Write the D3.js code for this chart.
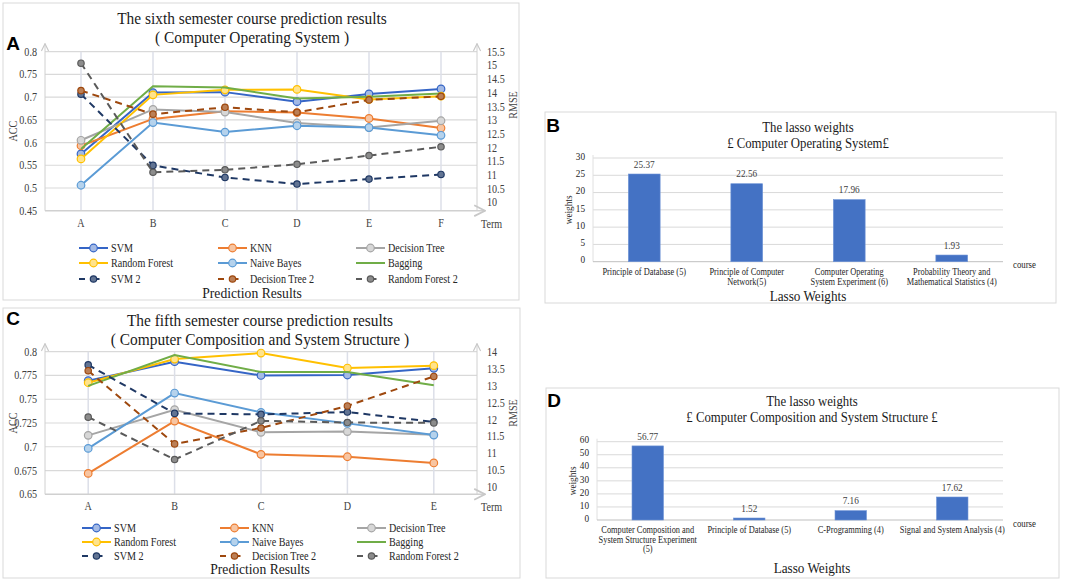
<!DOCTYPE html>
<html>
<head>
<meta charset="utf-8">
<script src="https://cdn.jsdelivr.net/npm/d3@7"></script>
<style>
  body { margin: 0; background: #fff; }
  text { font-family: "Liberation Serif", "Times New Roman", serif; fill: #404040; }
  .panel-letter { font-family: "Liberation Sans", Arial, sans-serif; font-weight: bold; fill: #000; }
</style>
</head>
<body>
<svg id="chart" width="1084" height="581"></svg>
<script>
// Panel A / C categories (terms)
const termsA = ["A", "B", "C", "D", "E", "F"];
const termsC = ["A", "B", "C", "D", "E"];

// Panel A: ACC (left axis)
const svmA = [0.575, 0.710, 0.711, 0.690, 0.707, 0.718];
const knnA = [0.593, 0.652, 0.669, 0.666, 0.653, 0.632];
const dtA = [0.605, 0.673, 0.667, 0.643, 0.633, 0.648];
const rfA = [0.564, 0.705, 0.716, 0.717, 0.695, 0.702];
const nbA = [0.506, 0.644, 0.623, 0.637, 0.633, 0.616];
const bagA = [0.586, 0.724, 0.721, 0.697, 0.701, 0.708];
// Panel A: RMSE (right axis)
const svm2A = [13.95, 11.35, 10.91, 10.67, 10.85, 11.02];
const dt2A = [14.08, 13.22, 13.47, 13.29, 13.74, 13.87];
const rf2A = [15.08, 11.10, 11.19, 11.39, 11.71, 12.03];

// Panel C: ACC (left axis)
const svmC = [0.7695, 0.7895, 0.775, 0.7755, 0.7825];
const knnC = [0.672, 0.727, 0.692, 0.6895, 0.683];
const dtC = [0.712, 0.739, 0.7152, 0.716, 0.7127];
const rfC = [0.7674, 0.7923, 0.7986, 0.7828, 0.7853];
const nbC = [0.6983, 0.7565, 0.7362, 0.7246, 0.7123];
const bagC = [0.764, 0.7965, 0.7786, 0.7786, 0.7646];
// Panel C: RMSE (right axis)
const svm2C = [13.61, 12.18, 12.15, 12.22, 11.93];
const dt2C = [13.44, 11.28, 11.75, 12.40, 13.27];
const rf2C = [12.07, 10.82, 11.96, 11.91, 11.90];

// Series names (legend order)
const seriesNames = ["SVM", "KNN", "Decision Tree", "Random Forest", "Naive Bayes", "Bagging", "SVM 2", "Decision Tree 2", "Random Forest 2"];

// Tick labels
const accTicksA = [0.45, 0.5, 0.55, 0.6, 0.65, 0.7, 0.75, 0.8];
const rmseTicksA = [10, 10.5, 11, 11.5, 12, 12.5, 13, 13.5, 14, 14.5, 15, 15.5];
const accTicksC = [0.65, 0.675, 0.7, 0.725, 0.75, 0.775, 0.8];
const rmseTicksC = [10, 10.5, 11, 11.5, 12, 12.5, 13, 13.5, 14];

// Panel B / D lasso weights
const coursesB = ["Principle of Database (5)", "Principle of Computer\nNetwork(5)", "Computer Operating\nSystem Experiment (6)", "Probability Theory and\nMathematical Statistics (4)"];
const weightsB = [25.37, 22.56, 17.96, 1.93];
const coursesD = ["Computer Composition and\nSystem Structure Experiment\n(5)", "Principle of Database (5)", "C-Programming (4)", "Signal and System Analysis (4)"];
const weightsD = [56.77, 1.52, 7.16, 17.62];
const weightTicksB = [0, 5, 10, 15, 20, 25, 30];
const weightTicksD = [0, 10, 20, 30, 40, 50, 60];

const svg = d3.select("#chart");

// styles per series
const colors = ["#3565c6", "#ed7d31", "#a5a5a5", "#ffc000", "#5b9bd5", "#70ad47", "#1f3864", "#9e480e", "#5a5a5a"];
const dashed = [false, false, false, false, false, false, true, true, true];
const hasMarker = [true, true, true, true, true, false, true, true, true];

// the source figure uses a narrow serif, so squeeze text horizontally
const squeeze = 0.88;

// open chevron arrow for axes
svg.append("defs").append("marker")
  .attr("id", "arrow")
  .attr("viewBox", "0 0 10 10")
  .attr("refX", 9).attr("refY", 5)
  .attr("markerWidth", 9).attr("markerHeight", 9)
  .attr("orient", "auto")
  .append("path")
    .attr("d", "M1,1 L9,5 L1,9")
    .attr("fill", "none")
    .attr("stroke", "#c8c8c8")
    .attr("stroke-width", 1.3);

function frame(x, y, w, h) {
  svg.append("rect")
    .attr("x", x).attr("y", y).attr("width", w).attr("height", h)
    .attr("fill", "#fff").attr("stroke", "#d9d9d9");
}

function label(txt, x, y, size, opts = {}) {
  const sx = opts.cls ? 1 : squeeze;
  const rot = opts.rotate ? " rotate(-90)" : "";
  const t = svg.append("text")
    .attr("transform", `translate(${x},${y})${rot} scale(${sx},1)`)
    .attr("dy", "0.35em")
    .attr("font-size", size)
    .attr("text-anchor", opts.anchor || "middle")
    .text(txt);
  if (opts.cls) t.attr("class", opts.cls);
  if (opts.color) t.style("fill", opts.color);
  return t;
}

// Line chart panel (A and C)
function drawLinePanel(p) {
  frame(p.fx, p.fy, p.fw, p.fh);
  label(p.letter, p.fx + 10, p.letterY, 19, { cls: "panel-letter" });
  label(p.title1, p.cx, p.t1y, 17.5, { color: "#1a1a1a" });
  label(p.title2, p.cx, p.t2y, 17.5, { color: "#1a1a1a" });

  const x = d3.scalePoint().domain(p.terms).range([p.left, p.right]).padding(0.5);
  const yL = d3.scaleLinear().domain(d3.extent(p.accTicks)).range([p.bottom, p.top]);
  const yR = d3.scaleLinear().domain(d3.extent(p.rmseTicks)).range([p.rBottom, p.top]);

  const g = svg.append("g");

  // horizontal grid
  g.selectAll(".hgrid").data(p.accTicks.slice(1)).join("line")
    .attr("x1", p.left).attr("x2", p.right)
    .attr("y1", d => yL(d)).attr("y2", d => yL(d))
    .attr("stroke", "#d9d9d9").attr("stroke-width", 1.2);
  // vertical grid
  g.selectAll(".vgrid").data(p.terms).join("line")
    .attr("x1", d => x(d)).attr("x2", d => x(d))
    .attr("y1", p.top).attr("y2", p.bottom)
    .attr("stroke", "#dcdfe8").attr("stroke-width", 1.5);

  // axis lines with arrows
  g.append("line").attr("x1", p.left).attr("x2", p.left).attr("y1", p.bottom).attr("y2", p.top - 8)
    .attr("stroke", "#d0d0d0").attr("marker-end", "url(#arrow)");
  g.append("line").attr("x1", p.right).attr("x2", p.right).attr("y1", p.bottom).attr("y2", p.top - 8)
    .attr("stroke", "#d0d0d0").attr("marker-end", "url(#arrow)");
  g.append("line").attr("x1", p.left).attr("x2", p.right + 8).attr("y1", p.bottom).attr("y2", p.bottom)
    .attr("stroke", "#d0d0d0").attr("stroke-width", 1.5).attr("marker-end", "url(#arrow)");

  // tick labels
  p.accTicks.forEach(v => label(String(v), p.left - 8, yL(v), 11.5, { anchor: "end" }));
  p.rmseTicks.forEach(v => label(String(v), p.right + 10, yR(v), 11.5, { anchor: "start" }));
  p.terms.forEach(t => label(t, x(t), p.bottom + 12, 11.5));
  label("Term", p.right + 4, p.bottom + 13, 11.5, { anchor: "start" });
  label("ACC", p.left - 32, (p.top + p.bottom) / 2, 11.5, { rotate: true });
  label("RMSE", p.right + 36, p.rmseLabelY, 11.5, { rotate: true });

  // series
  p.series.forEach((vals, i) => {
    const y = i < 6 ? yL : yR;
    const pts = vals.map((v, j) => [x(p.terms[j]), y(v)]);
    g.append("path")
      .attr("d", d3.line()(pts))
      .attr("fill", "none")
      .attr("stroke", colors[i])
      .attr("stroke-width", 2)
      .attr("stroke-dasharray", dashed[i] ? "7,5" : null);
    if (hasMarker[i]) {
      g.selectAll(null).data(pts).join("circle")
        .attr("cx", d => d[0]).attr("cy", d => d[1])
        .attr("r", dashed[i] ? 3.2 : 3.8)
        .attr("fill", d3.interpolateRgb(colors[i], "#fff")(dashed[i] ? 0.3 : 0.55))
        .attr("stroke", colors[i]).attr("stroke-width", 1.2);
    }
  });

  // legend (3 columns)
  seriesNames.forEach((name, i) => {
    const col = i % 3, row = Math.floor(i / 3);
    const lx = p.legX[col], ly = p.legY[row];
    const lg = svg.append("g");
    lg.append("line")
      .attr("x1", lx).attr("x2", lx + 29).attr("y1", ly).attr("y2", ly)
      .attr("stroke", colors[i]).attr("stroke-width", 2)
      .attr("stroke-dasharray", dashed[i] ? "6,8.5" : null);
    if (hasMarker[i]) {
      lg.append("circle").attr("cx", lx + 14.5).attr("cy", ly)
        .attr("r", dashed[i] ? 3.2 : 3.8)
        .attr("fill", d3.interpolateRgb(colors[i], "#fff")(dashed[i] ? 0.3 : 0.55))
        .attr("stroke", colors[i]).attr("stroke-width", 1.2);
    }
    label(name, lx + 32, ly, 11.5, { anchor: "start", color: "#262626" });
  });

  label("Prediction Results", p.cx, p.footY, 15.5, { color: "#1a1a1a" });
}

// Bar chart panel (B and D)
function drawBarPanel(p) {
  frame(p.fx, p.fy, p.fw, p.fh);
  label(p.letter, p.fx + 8, p.letterY, 19, { cls: "panel-letter" });
  label("The lasso weights", p.cx, p.t1y, 14.5, { color: "#1a1a1a" });
  label(p.title2, p.cx, p.t2y, 14.5, { color: "#1a1a1a" });

  const x = d3.scaleBand().domain(p.courses).range([p.left, p.right]);
  const y = d3.scaleLinear().domain(d3.extent(p.ticks)).range([p.bottom, p.top]);
  const g = svg.append("g");

  g.selectAll(".grid").data(p.ticks.slice(1)).join("line")
    .attr("x1", p.left).attr("x2", p.right)
    .attr("y1", d => y(d)).attr("y2", d => y(d))
    .attr("stroke", "#d9d9d9");
  g.append("line").attr("x1", p.left).attr("x2", p.left).attr("y1", p.bottom).attr("y2", p.top - 3)
    .attr("stroke", "#e0e0e0");
  g.append("line").attr("x1", p.left).attr("x2", p.right).attr("y1", p.bottom).attr("y2", p.bottom)
    .attr("stroke", "#bfbfbf");

  const bw = x.bandwidth() * 0.31;
  g.selectAll("rect").data(p.weights).join("rect")
    .attr("x", (d, i) => x(p.courses[i]) + (x.bandwidth() - bw) / 2)
    .attr("y", d => y(d))
    .attr("width", bw)
    .attr("height", d => y(0) - y(d))
    .attr("fill", "#4472c4")
    .attr("stroke", "#6e93d6").attr("stroke-width", 0.6);

  p.weights.forEach((v, i) => label(v.toFixed(2), x(p.courses[i]) + x.bandwidth() / 2, y(v) - 10, 10.5));
  p.ticks.forEach(v => label(String(v), p.left - 8, y(v) - 2, 10.5, { anchor: "end", color: "#262626" }));
  p.courses.forEach(c => {
    c.split("\n").forEach((line, k) => {
      label(line, x(c) + x.bandwidth() / 2, p.bottom + 10 + k * 9.5, 9.5, { color: "#262626" });
    });
  });
  label("course", p.right + 10, p.bottom + 3, 10, { anchor: "start", color: "#262626" });
  label("weights", p.left - 25, (p.top + p.bottom) / 2, 10.5, { rotate: true, color: "#262626" });
  label("Lasso Weights", p.cx, p.footY, 15, { color: "#1a1a1a" });
}

drawLinePanel({
  letter: "A", fx: 3, fy: 3, fw: 516, fh: 297, letterY: 43,
  title1: "The sixth semester course prediction results",
  title2: "( Computer Operating System )",
  cx: 252, t1y: 18, t2y: 37,
  terms: termsA, accTicks: accTicksA, rmseTicks: rmseTicksA,
  left: 45, right: 477, top: 51.7, bottom: 210.7, rBottom: 202.4, rmseLabelY: 105,
  series: [svmA, knnA, dtA, rfA, nbA, bagA, svm2A, dt2A, rf2A],
  legX: [79, 218, 356], legY: [248, 263, 279], footY: 293
});

drawLinePanel({
  letter: "C", fx: 3, fy: 308, fw: 517, fh: 270, letterY: 318,
  title1: "The fifth semester course prediction results",
  title2: "( Computer Composition and System Structure )",
  cx: 260, t1y: 320, t2y: 339,
  terms: termsC, accTicks: accTicksC, rmseTicks: rmseTicksC,
  left: 45, right: 477, top: 351.7, bottom: 494.3, rBottom: 487.3, rmseLabelY: 413,
  series: [svmC, knnC, dtC, rfC, nbC, bagC, svm2C, dt2C, rf2C],
  legX: [82, 220, 357], legY: [528, 542, 556], footY: 569
});

drawBarPanel({
  letter: "B", fx: 545, fy: 112, fw: 511, fh: 191, letterY: 125,
  title2: "£  Computer Operating System£",
  cx: 808, t1y: 127, t2y: 143,
  courses: coursesB, weights: weightsB, ticks: weightTicksB,
  left: 593, right: 1003, top: 158, bottom: 261.7, footY: 296
});

drawBarPanel({
  letter: "D", fx: 546, fy: 388, fw: 513, fh: 190, letterY: 400,
  title2: "£  Computer Composition and System Structure £",
  cx: 812, t1y: 401, t2y: 417,
  courses: coursesD, weights: weightsD, ticks: weightTicksD,
  left: 597, right: 1003, top: 441.7, bottom: 520, footY: 568
});
</script>
</body>
</html>
